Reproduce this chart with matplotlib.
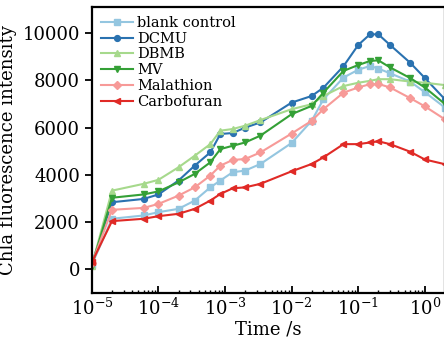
import numpy as np
import matplotlib
matplotlib.use("Agg")
import matplotlib.pyplot as plt
from matplotlib.ticker import LogLocator, NullFormatter

plt.rcParams['font.family'] = ['DejaVu Serif']
plt.rcParams['mathtext.fontset'] = 'dejavuserif'

# time points (s)
t = [1e-5, 2e-5, 6e-5, 1e-4, 2e-4, 3.5e-4, 6e-4, 8.5e-4, 1.3e-3, 2e-3, 3.4e-3,
     1e-2, 2e-2, 3e-2, 6e-2, 0.1, 0.15, 0.2, 0.3, 0.6, 1.0, 2.0]

blank = [200, 2140, 2280, 2420, 2560, 2910, 3470, 3760, 4110, 4180, 4460,
         5350, 6290, 7200, 8120, 8450, 8610, 8500, 8300, 7950, 7500, 6850]
dcmu = [250, 2840, 2980, 3170, 3760, 4390, 4950, 5730, 5770, 6000, 6220,
        7060, 7340, 7690, 8600, 9500, 9950, 9950, 9500, 8750, 8100, 7200]
dbmb = [150, 3330, 3620, 3790, 4320, 4810, 5300, 5870, 5940, 6080, 6320,
        6780, 6990, 7340, 7760, 7900, 7980, 8050, 8050, 7950, 7900, 7800]
mv = [150, 3030, 3170, 3300, 3680, 4040, 4530, 5090, 5230, 5370, 5660,
      6570, 6920, 7480, 8400, 8650, 8820, 8850, 8550, 8100, 7700, 7000]
malathion = [250, 2520, 2600, 2770, 3120, 3470, 3970, 4390, 4630, 4670, 4950,
             5750, 6290, 6780, 7480, 7700, 7840, 7850, 7700, 7250, 6900, 6350]
carbofuran = [300, 2040, 2140, 2250, 2350, 2560, 2910, 3190, 3430, 3470, 3620,
              4150, 4460, 4740, 5300, 5300, 5370, 5420, 5300, 4980, 4650, 4450]

labels = ['blank control', 'DCMU', 'DBMB', 'MV', 'Malathion', 'Carbofuran']
series = [blank, dcmu, dbmb, mv, malathion, carbofuran]
colors = ['#94c6e0', '#2a72b0', '#a6d98c', '#34a036', '#f79a98', '#e02a26']
markers = ['s', 'o', '^', 'v', 'D', '<']
msizes = [3.8, 4.2, 4.8, 4.8, 3.8, 4.8]

fig = plt.figure(figsize=(4.44, 3.41), dpi=100)
ax = fig.add_axes([0.207, 0.141, 0.795, 0.838])

for y, lab, c, m, ms in zip(series, labels, colors, markers, msizes):
    ax.plot(t, y, color=c, marker=m, markersize=ms, linewidth=1.5, label=lab)

ax.set_xscale('log')
ax.set_xlim(1e-5, 2.0)
ax.set_ylim(-1000, 11100)
ax.set_yticks([0, 2000, 4000, 6000, 8000, 10000])

ax.xaxis.set_major_locator(LogLocator(base=10, numticks=10))
ax.xaxis.set_minor_locator(LogLocator(base=10, subs=np.arange(2, 10), numticks=10))
ax.xaxis.set_minor_formatter(NullFormatter())
ax.tick_params(axis='x', which='major', direction='in', length=5, width=1.3, labelsize=13)
ax.tick_params(axis='x', which='minor', direction='in', length=2.5, width=1)
ax.tick_params(axis='y', which='major', direction='out', length=5, width=1.3, labelsize=13)

for s in ax.spines.values():
    s.set_linewidth(1.6)

ax.set_xlabel('Time /s', fontsize=13, labelpad=1)
ax.set_ylabel('Chla fluorescence intensity', fontsize=13, labelpad=4)

ax.legend(loc='upper left', frameon=False, fontsize=10.5, labelspacing=0.12,
          handlelength=2.2, handletextpad=0.3, borderaxespad=0.2,
          bbox_to_anchor=(0.0, 1.0))

fig.savefig('out.png', dpi=100)
